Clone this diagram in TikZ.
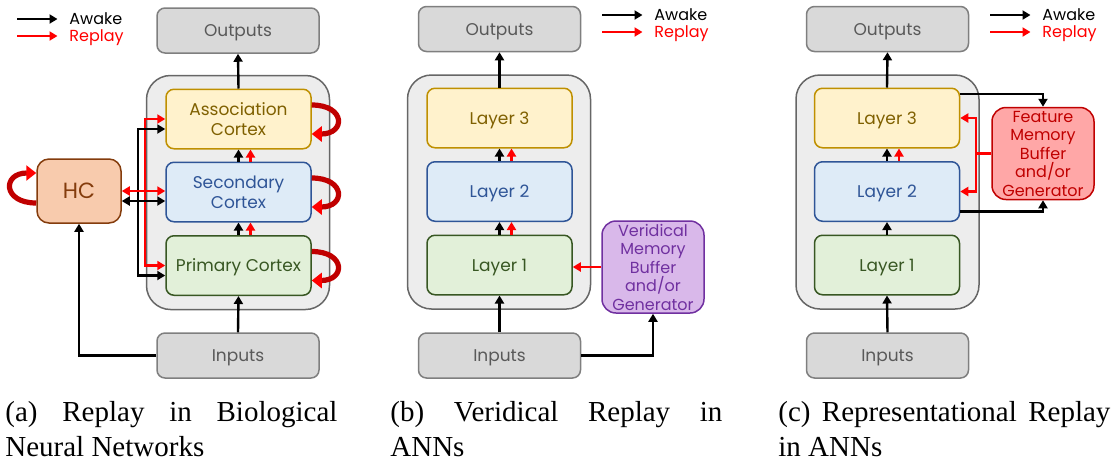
\documentclass[tikz,border=0pt]{standalone}
\usepackage{fontspec}
\setmainfont{Liberation Serif}
\newfontfamily\gothic{Poppins}
\usetikzlibrary{arrows.meta,positioning}

\definecolor{ioFill}{HTML}{D9D9D9}
\definecolor{ioLine}{HTML}{7F7F7F}
\definecolor{ioText}{HTML}{595959}
\definecolor{bgFill}{HTML}{EDEDED}
\definecolor{bgLine}{HTML}{666666}
\definecolor{yelFill}{HTML}{FFF2CC}
\definecolor{yelLine}{HTML}{BF9000}
\definecolor{yelText}{HTML}{7F6000}
\definecolor{bluFill}{HTML}{DEEBF7}
\definecolor{bluLine}{HTML}{2F5597}
\definecolor{grnFill}{HTML}{E2F0D9}
\definecolor{grnLine}{HTML}{385723}
\definecolor{hcFill}{HTML}{F8CBAD}
\definecolor{hcLine}{HTML}{843C0C}
\definecolor{purFill}{HTML}{D9B8EA}
\definecolor{purLine}{HTML}{7030A0}
\definecolor{redFill}{HTML}{FFA7A7}
\definecolor{redLine}{HTML}{C00000}

\begin{document}
\begin{tikzpicture}[x=0.5pt,y=-0.5pt,
box/.style={draw, rounded corners=4pt, line width=0.75pt, inner sep=0pt, text depth=0pt,
	align=center, font=\gothic\fontsize{8.5}{10}\selectfont},
io/.style={box, fill=ioFill, draw=ioLine, text=ioText,
	minimum width=81pt, minimum height=22.5pt},
bgbox/.style={draw=bgLine, fill=bgFill, line width=0.75pt,
	rounded corners=12pt, minimum width=91.5pt, minimum height=117pt},
lyr/.style n args={3}{box, fill=#1, draw=#2, text=#3,
	minimum width=72.5pt, minimum height=29.75pt},
mem/.style n args={3}{box, rounded corners=7pt, fill=#1, draw=#2, text=#3,
	font=\gothic\fontsize{8}{9.25}\selectfont, minimum width=51pt, minimum height=46pt},
leg/.style={anchor=west, inner sep=0pt, text height=1.6ex, text depth=.4ex,
	font=\gothic\fontsize{8}{9}\selectfont},
awake/.style={->, line width=1.2pt, black},
replay/.style={->, line width=1.2pt, red},
self/.style={-{Triangle[length=5pt,width=7.5pt,color=red]}, line width=2.6pt, redLine},
subcap/.style={anchor=base west, inner sep=0pt, text width=166pt, align=justify,
	font=\fontsize{14.5}{17.5}\selectfont},
>={Triangle[length=4pt,width=4.5pt]}
]
\useasboundingbox (0,0) rectangle (1116,463);

\foreach \p/\x/\y in {A/69/19,B/654/15,C/1042/15}{
	\node[leg] (wk\p) at (\x,\y) {Awake};
	\node[leg,text=red] (rp\p) at (\x,\y+17) {Replay};
	\draw[awake] ([xshift=-26pt]wk\p.west) -- ([xshift=-5.75pt]wk\p.west);
	\draw[replay] ([xshift=-26pt]rp\p.west) -- ([xshift=-5.75pt]rp\p.west);
}

% (a) biological
\node[bgbox] (bgA) at (238,192.5) {};
\node[io] (outA) at (238,30.5) {Outputs};
\node[io] (inA) at (238,355.5) {Inputs};
\node[lyr={yelFill}{yelLine}{yelText}] (asc) at (238.5,119) {Association\\Cortex};
\node[lyr={bluFill}{bluLine}{bluLine}, below=6pt of asc] (sec) {Secondary\\Cortex};
\node[lyr={grnFill}{grnLine}{grnLine}, below=6.25pt of sec] (pri) {Primary Cortex};
\node[box, rounded corners=6pt, fill=hcFill, draw=hcLine, text=hcLine,
	minimum width=42pt, minimum height=32pt, font=\gothic\fontsize{11}{13}\selectfont]
	(hc) at (79,191) {HC};
\draw[awake] (asc.north) -- (outA.south);
\draw[awake] (inA.north) -- (pri.south);
\draw[awake] (pri.north) -- (sec.south);
\draw[awake] (sec.north) -- (asc.south);
\draw[replay] ([xshift=6pt]pri.north) -- ([xshift=6pt]sec.south);
\draw[replay] ([xshift=6pt]sec.north) -- ([xshift=6pt]asc.south);
\draw[awake] (inA.west) -| (hc.south);
\coordinate (rj) at ([xshift=-10pt]sec.west);
\coordinate (bj) at ([xshift=-13.5pt,yshift=-5pt]sec.west);
\draw[replay] (rj) |- (asc.west);
\draw[replay] (rj) |- (pri.west);
\draw[awake] (bj) |- ([yshift=-5pt]asc.west);
\draw[awake] (bj) |- ([yshift=-5pt]pri.west);
\draw[replay,<->] (hc.east) -- (hc.east -| sec.west);
\draw[awake,<->] ([yshift=-5pt]hc.east) -- ([yshift=-5pt]hc.east -| sec.west);
\foreach \n in {asc,sec,pri}
	\draw[self] ([yshift=7pt]\n.east) .. controls +(34,0) and +(34,0) .. ([yshift=-7.5pt]\n.east);
\draw[self] ([yshift=-6pt]hc.west) .. controls +(-34,0) and +(-34,0) .. ([yshift=9pt]hc.west);

% (b) veridical
\node[bgbox] (bgB) at (499,192) {};
\node[io] (outB) at (499.5,29) {Outputs};
\node[io] (inB) at (499.5,355.5) {Inputs};
\node[lyr={yelFill}{yelLine}{yelText}] (l3b) at (499.5,118) {Layer 3};
\node[lyr={bluFill}{bluLine}{bluLine}, below=6.25pt of l3b] (l2b) {Layer 2};
\node[lyr={grnFill}{grnLine}{grnLine}, below=6.25pt of l2b] (l1b) {Layer 1};
\node[mem={purFill}{purLine}{purLine}] (ver) at (653,267)
	{Veridical\\Memory\\Buffer\\and/or\\Generator};
\draw[awake] (l3b.north) -- (outB.south);
\draw[awake] (inB.north) -- (l1b.south);
\draw[awake] (l1b.north) -- (l2b.south);
\draw[awake] (l2b.north) -- (l3b.south);
\draw[replay] ([xshift=6pt]l1b.north) -- ([xshift=6pt]l2b.south);
\draw[replay] ([xshift=6pt]l2b.north) -- ([xshift=6pt]l3b.south);
\draw[replay] (ver.west) -- (ver.west -| l1b.east);
\draw[awake] (inB.east) -| (ver.south);

% (c) representational
\node[bgbox] (bgC) at (887.5,192) {};
\node[io] (outC) at (887.5,29) {Outputs};
\node[io] (inC) at (887.5,355.5) {Inputs};
\node[lyr={yelFill}{yelLine}{yelText}] (l3c) at (887,118) {Layer 3};
\node[lyr={bluFill}{bluLine}{bluLine}, below=6.25pt of l3c] (l2c) {Layer 2};
\node[lyr={grnFill}{grnLine}{grnLine}, below=6.25pt of l2c] (l1c) {Layer 1};
\node[mem={redFill}{redLine}{redLine}] (fmb) at (1043,153.5)
	{Feature\\Memory\\Buffer\\and/or\\Generator};
\draw[awake] (l3c.north) -- (outC.south);
\draw[awake] (inC.north) -- (l1c.south);
\draw[awake] (l1c.north) -- (l2c.south);
\draw[awake] (l2c.north) -- (l3c.south);
\draw[replay] ([xshift=6pt]l2c.north) -- ([xshift=6pt]l3c.south);
\draw[awake] ([yshift=12pt]l3c.east) -| (fmb.north);
\draw[awake] ([yshift=-10pt]l2c.east) -| (fmb.south);
\coordinate (fj) at ([xshift=-7.5pt]fmb.west);
\draw[replay] (fmb.west) -- (fj) |- (l3c.east);
\draw[replay] (fj) |- (l2c.east);

% captions
\node[subcap] (capA) at (5,421) {(a) Replay in Biological\linebreak Neural Networks};
\node[subcap] (capB) at (390,421) {(b) Veridical Replay in\linebreak ANNs};
\node[subcap] (capC) at (778,421) {(c) Representational Replay\linebreak in ANNs};
\end{tikzpicture}
\end{document}
